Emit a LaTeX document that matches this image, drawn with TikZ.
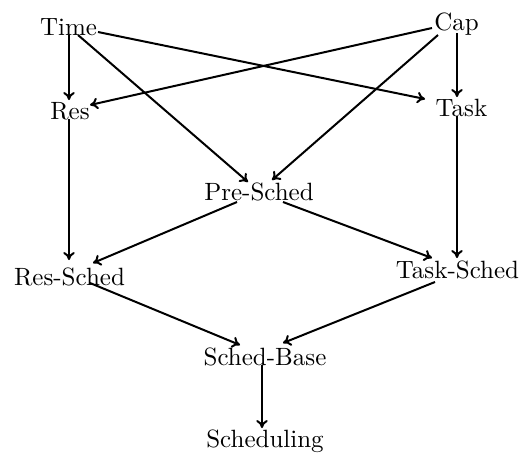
\documentclass[tikz,border=0pt]{standalone}
\usetikzlibrary{arrows.meta,calc}
\begin{document}
\begin{tikzpicture}[x=0.4pt,y=-0.4pt,
  lbl/.style={anchor=base,inner sep=0pt,font=\normalsize},
  edge/.style={-{To[length=3.2pt,width=4.6pt]},line width=0.8pt}]
\useasboundingbox (0,0) rectangle (521,454);
\node[lbl] (time) at (68.5,35) {Time};
\node[lbl] (cap) at (456.5,30) {Cap};
\node[lbl] (res) at (70,119) {Res};
\node[lbl] (task) at (461.5,116) {Task};
\node[lbl] (pre) at (259,200) {Pre-Sched};
\node[lbl] (ressched) at (69.5,285) {Res-Sched};
\node[lbl] (tasksched) at (457.5,278) {Task-Sched};
\node[lbl] (base) at (265,365) {Sched-Base};
\node[lbl] (sched) at (265,447) {Scheduling};
\draw[edge] ($(time.base)+(0.5,0)$) -- ($(res.base)+(-1,-19)$);
\draw[edge] ($(time.base)+(29.5,-3)$) -- ($(task.base)+(-36.5,-17)$);
\draw[edge] ($(time.base)+(9.5,0)$) -- ($(pre.base)+(-11,-18)$);
\draw[edge] ($(cap.base)+(-24.5,-2)$) -- ($(res.base)+(20,-14)$);
\draw[edge] ($(cap.base)+(-18.5,5)$) -- ($(pre.base)+(13,-20)$);
\draw[edge] ($(cap.base)+(0.5,3)$) -- ($(task.base)+(-4.5,-19)$);
\draw[edge] ($(res.base)+(-1,0)$) -- ($(ressched.base)+(-0.5,-25)$);
\draw[edge] ($(task.base)+(-4.5,0)$) -- ($(tasksched.base)+(-0.5,-20)$);
\draw[edge] ($(pre.base)+(-22,2)$) -- ($(ressched.base)+(23.5,-22)$);
\draw[edge] ($(pre.base)+(24,2)$) -- ($(tasksched.base)+(-25.5,-20)$);
\draw[edge] ($(ressched.base)+(20.5,-2)$) -- ($(base.base)+(-25,-20)$);
\draw[edge] ($(tasksched.base)+(-22.5,4)$) -- ($(base.base)+(18,-22)$);
\draw[edge] ($(base.base)+(-3,0)$) -- ($(sched.base)+(-3,-19)$);
\end{tikzpicture}
\end{document}
